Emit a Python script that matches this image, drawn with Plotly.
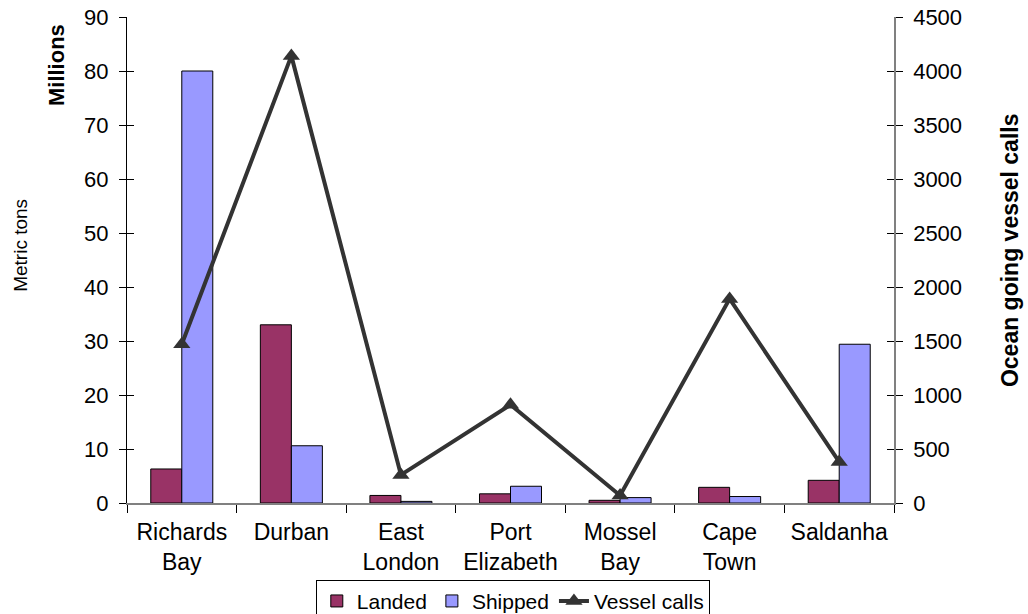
import plotly.graph_objects as go

# Port throughput and ocean-going vessel calls
ports = ["Richards<br>Bay", "Durban", "East<br>London", "Port<br>Elizabeth",
         "Mossel<br>Bay", "Cape<br>Town", "Saldanha"]
landed = [6.3, 33.0, 1.4, 1.7, 0.5, 2.9, 4.2]          # million metric tons
shipped = [80.0, 10.6, 0.3, 3.1, 1.0, 1.2, 29.4]       # million metric tons
vessel_calls = [1470, 4140, 260, 910, 70, 1890, 380]   # ocean going vessel calls

left_ticks = [0, 10, 20, 30, 40, 50, 60, 70, 80, 90]
right_ticks = [0, 500, 1000, 1500, 2000, 2500, 3000, 3500, 4000, 4500]

FONT = "Liberation Sans, Arial, sans-serif"
TICK_SIZE = 22

fig = go.Figure()
fig.add_trace(go.Bar(
    x=ports, y=landed, name="Landed",
    marker=dict(color="#993366", line=dict(color="#000000", width=1)),
))
fig.add_trace(go.Bar(
    x=ports, y=shipped, name="Shipped",
    marker=dict(color="#9999FF", line=dict(color="#000000", width=1)),
))
fig.add_trace(go.Scatter(
    x=ports, y=vessel_calls, name="Vessel calls", yaxis="y2",
    mode="lines+markers",
    line=dict(color="#333333", width=4),
    marker=dict(symbol="triangle-up", size=15, color="#333333"),
))

# invisible traces so the overlay tick axes render
fig.add_trace(go.Scatter(x=[ports[0]], y=[0], yaxis="y3", mode="markers",
                         marker=dict(opacity=0), showlegend=False, hoverinfo="skip"))
fig.add_trace(go.Scatter(x=[ports[0]], y=[0], yaxis="y4", mode="markers",
                         marker=dict(opacity=0), showlegend=False, hoverinfo="skip"))

fig.update_layout(
    width=1028, height=614,
    margin=dict(l=127, r=134, t=17, b=111, autoexpand=False),
    paper_bgcolor="white", plot_bgcolor="white",
    font=dict(family=FONT, size=TICK_SIZE, color="#000000"),
    barmode="group", bargap=0.434, bargroupgap=0,
    showlegend=True,
    legend=dict(
        orientation="h", x=0.503, xanchor="center", y=-0.158, yanchor="top",
        bordercolor="#000000", borderwidth=1, bgcolor="white",
        font=dict(family=FONT, size=21), itemwidth=30,
        tracegroupgap=0, traceorder="normal",
    ),
    xaxis=dict(
        type="category", tickson="boundaries", ticks="outside", ticklen=8,
        tickcolor="#000000", showline=True, linecolor="#808080", linewidth=1.5,
        showgrid=False, tickfont=dict(size=23), ticklabelstandoff=8,
        automargin=False,
    ),
    yaxis=dict(
        range=[0, 90], tickvals=left_ticks, ticks="outside", ticklen=7,
        tickcolor="#000000", showline=True, linecolor="#000000", linewidth=1,
        showgrid=False, zeroline=False, tickfont=dict(size=TICK_SIZE),
        ticklabelstandoff=6, automargin=False,
    ),
    yaxis2=dict(
        range=[0, 4500], tickvals=right_ticks, overlaying="y", side="right",
        ticks="outside", ticklen=7, tickcolor="#000000",
        showline=True, linecolor="#808080", linewidth=1.5,
        showgrid=False, zeroline=False, tickfont=dict(size=TICK_SIZE),
        ticklabelstandoff=6, automargin=False,
    ),
    # inner half of the cross tick marks on both value axes
    yaxis3=dict(
        range=[0, 90], tickvals=left_ticks, overlaying="y", side="left",
        ticks="inside", ticklen=7, tickcolor="#000000",
        showticklabels=False, showgrid=False, zeroline=False, showline=False,
        automargin=False,
    ),
    yaxis4=dict(
        range=[0, 4500], tickvals=right_ticks, overlaying="y", side="right",
        ticks="inside", ticklen=7, tickcolor="#000000",
        showticklabels=False, showgrid=False, zeroline=False, showline=False,
        automargin=False,
    ),
    annotations=[
        dict(text="Metric tons", xref="paper", yref="paper",
             x=-0.139, y=0.53, xanchor="center", yanchor="middle",
             textangle=-90, showarrow=False, font=dict(size=19)),
        dict(text="<b>Millions</b>", xref="paper", yref="paper",
             x=-0.091, y=0.99, xanchor="center", yanchor="top",
             textangle=-90, showarrow=False, font=dict(size=22)),
        dict(text="<b>Ocean going vessel calls</b>", xref="paper", yref="paper",
             x=1.151, y=0.52, xanchor="center", yanchor="middle",
             textangle=-90, showarrow=False, font=dict(size=23)),
    ],
)

fig.write_html("out.html")
